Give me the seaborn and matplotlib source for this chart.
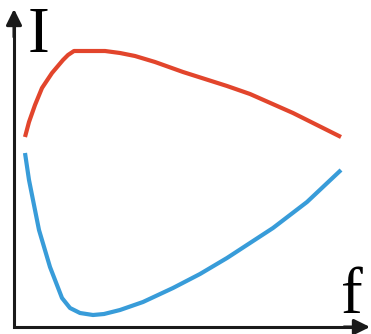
import matplotlib
matplotlib.use("Agg")
import matplotlib.pyplot as plt
import seaborn as sns
import pandas as pd

sns.set_style("white")
plt.rcParams['font.family'] = ['Liberation Serif', 'DejaVu Serif']

# Curve values (f, I in chart units)
red_f = [11, 15, 21, 28, 38, 49, 54, 60, 91, 106, 121, 141, 169, 213, 236, 279, 327]
red_I = [190, 205, 222, 239, 254, 267, 272, 276, 276, 274, 271, 265, 255, 241, 233, 214, 190]
blue_f = [11, 15, 19, 25, 36, 48, 56, 66, 79, 90, 106, 129, 159, 186, 213, 259, 293, 327]
blue_I = [174, 147, 127, 97, 60, 29, 19, 14, 12, 13, 17, 25, 39, 53, 69, 99, 125, 157]

x_label = "f"
y_label = "I"

red_df = pd.DataFrame({"f": red_f, "I": red_I})
blue_df = pd.DataFrame({"f": blue_f, "I": blue_I})

fig = plt.figure(figsize=(3.71, 3.34), dpi=100)
ax = fig.add_axes([0, 0, 1, 1])
ax.set_xlim(-14, 357)
ax.set_ylim(-7, 327)
ax.axis("off")

sns.lineplot(data=red_df, x="f", y="I", sort=False, estimator=None, ax=ax,
             color="#E2452C", lw=3.0, solid_capstyle="butt", solid_joinstyle="round")
sns.lineplot(data=blue_df, x="f", y="I", sort=False, estimator=None, ax=ax,
             color="#389CD9", lw=3.0, solid_capstyle="butt", solid_joinstyle="round")

axis_color = "#1a1a1a"
ax.plot([0, 0, 340], [305, 0, 0], color=axis_color, lw=2.2,
        solid_joinstyle="miter", solid_capstyle="butt")
ap = dict(arrowstyle="-|>,head_length=0.95,head_width=0.47", lw=2.2,
          color=axis_color, shrinkA=0, shrinkB=0)
ax.annotate("", xy=(0, 318), xytext=(0, 290), arrowprops=ap)
ax.annotate("", xy=(356, 0), xytext=(330, 0), arrowprops=ap)

ax.text(24.5, 275, y_label, fontsize=47, ha="center", va="baseline", color="black")
ax.text(338, 14, x_label, fontsize=47, ha="center", va="baseline", color="black")

fig.savefig("out.png", dpi=100)
